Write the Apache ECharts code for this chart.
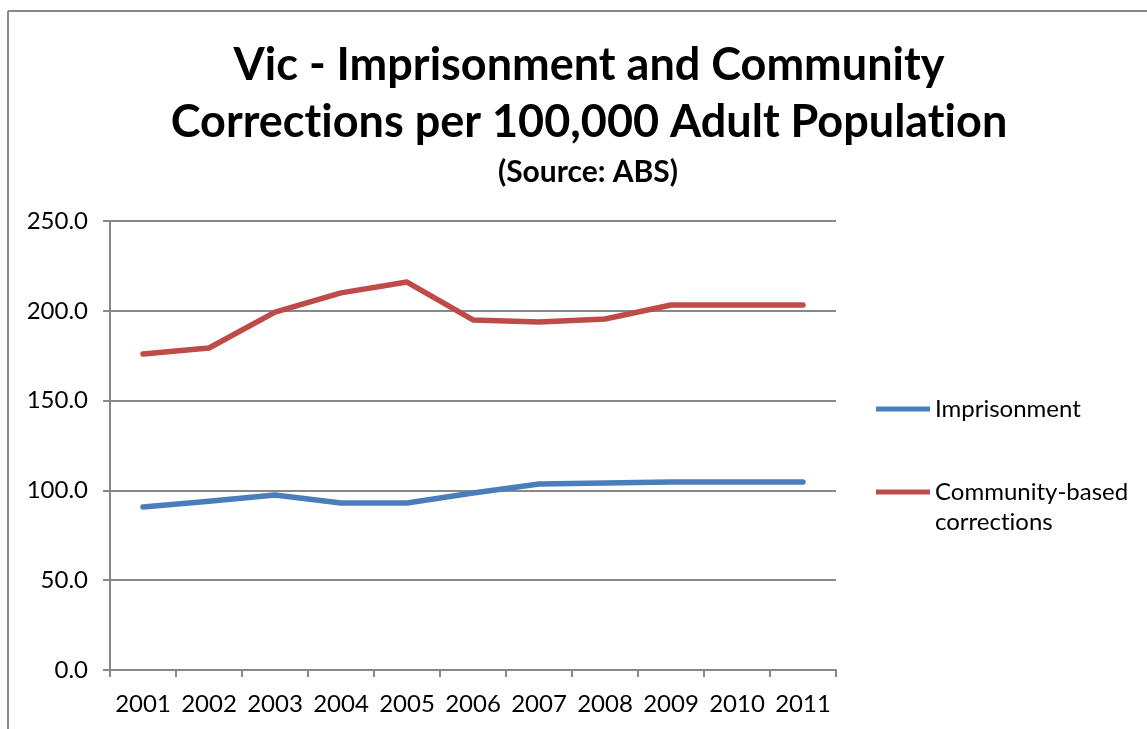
<!DOCTYPE html>
<html>
<head>
<meta charset="utf-8">
<script src="https://cdn.jsdelivr.net/npm/echarts@6/dist/echarts.min.js"></script>
<style>
  html, body { margin: 0; padding: 0; background: #fff; }
  #chart { width: 1147px; height: 729px; }
</style>
</head>
<body>
<div id="chart"></div>
<script>
const years = ['2001', '2002', '2003', '2004', '2005', '2006', '2007', '2008', '2009', '2010', '2011']
const imprisonment = [90.8, 94.0, 97.4, 93.0, 93.0, 98.5, 103.6, 104.1, 104.7, 104.7, 104.7]
const community = [176.0, 179.3, 199.3, 210.0, 216.0, 194.9, 193.8, 195.4, 203.2, 203.2, 203.2]

const font = 'Lato, "Open Sans", sans-serif'
const gridColor = '#888888'

let chart = echarts.init(document.getElementById('chart'))
chart.setOption({
  animation: false,
  backgroundColor: '#ffffff',
  textStyle: { fontFamily: font },
  graphic: [
    { type: 'line', shape: { x1: 8, y1: 11, x2: 1147, y2: 11 }, style: { stroke: '#888888', lineWidth: 2 } },
    { type: 'line', shape: { x1: 8, y1: 11, x2: 8, y2: 729 }, style: { stroke: '#888888', lineWidth: 2 } }
  ],
  title: [
    {
      // split at "t|i" so each piece is drawn on its own and Lato does not join them
      text: '{t|Vic - Imprisonment and Community}\n{t|Correct}{t|ions per 100,000 Adult Populat}{t|ion}',
      left: 584,
      top: 32,
      textAlign: 'center',
      textStyle: {
        fontFamily: font, fontSize: 45, fontWeight: 'bold', color: '#000', lineHeight: 57,
        rich: { t: { fontFamily: font, fontSize: 45, fontWeight: 'bold', color: '#000', lineHeight: 57 } }
      }
    },
    {
      text: '(Source: ABS)',
      left: 583,
      top: 152,
      textAlign: 'center',
      textStyle: { fontFamily: font, fontSize: 30, fontWeight: 'bold', color: '#000' }
    }
  ],
  legend: {
    orient: 'vertical',
    left: 876,
    top: 394,
    padding: 0,
    itemWidth: 54,
    itemHeight: 5,
    itemGap: 23,
    icon: 'rect',
    data: ['Imprisonment', 'Community-based corrections'],
    formatter: function(name) {
      return name === 'Imprisonment' ? name : ' \nCommunity-based\n{a|correct}{a|ions}'
    },
    textStyle: {
      fontFamily: font, fontSize: 24, color: '#000', lineHeight: 30,
      rich: { a: { fontFamily: font, fontSize: 24, color: '#000', lineHeight: 30 } }
    }
  },
  grid: { left: 110, right: 311, top: 221, bottom: 59, containLabel: false },
  xAxis: {
    type: 'category',
    data: years,
    boundaryGap: true,
    axisLine: { lineStyle: { color: gridColor, width: 2 } },
    axisTick: { show: true, length: 7, lineStyle: { color: gridColor, width: 2 } },
    axisLabel: { color: '#000', fontSize: 24, fontFamily: font, margin: 22, interval: 0 }
  },
  yAxis: {
    type: 'value',
    min: 0,
    max: 250,
    interval: 50,
    axisLine: { show: true, lineStyle: { color: gridColor, width: 2 } },
    axisTick: { show: true, length: 7, lineStyle: { color: gridColor, width: 2 } },
    axisLabel: { color: '#000', fontSize: 24, fontFamily: font, margin: 22, formatter: v => v.toFixed(1) },
    splitLine: { lineStyle: { color: gridColor, width: 2 } }
  },
  series: [
    {
      name: 'Imprisonment',
      type: 'line',
      data: imprisonment,
      symbol: 'none',
      color: '#4A7EBB',
      lineStyle: { width: 5.5, color: '#4A7EBB', cap: 'round', join: 'round' }
    },
    {
      name: 'Community-based corrections',
      type: 'line',
      data: community,
      symbol: 'none',
      color: '#BE4B48',
      lineStyle: { width: 5.5, color: '#BE4B48', cap: 'round', join: 'round' }
    }
  ]
})
</script>
</body>
</html>
